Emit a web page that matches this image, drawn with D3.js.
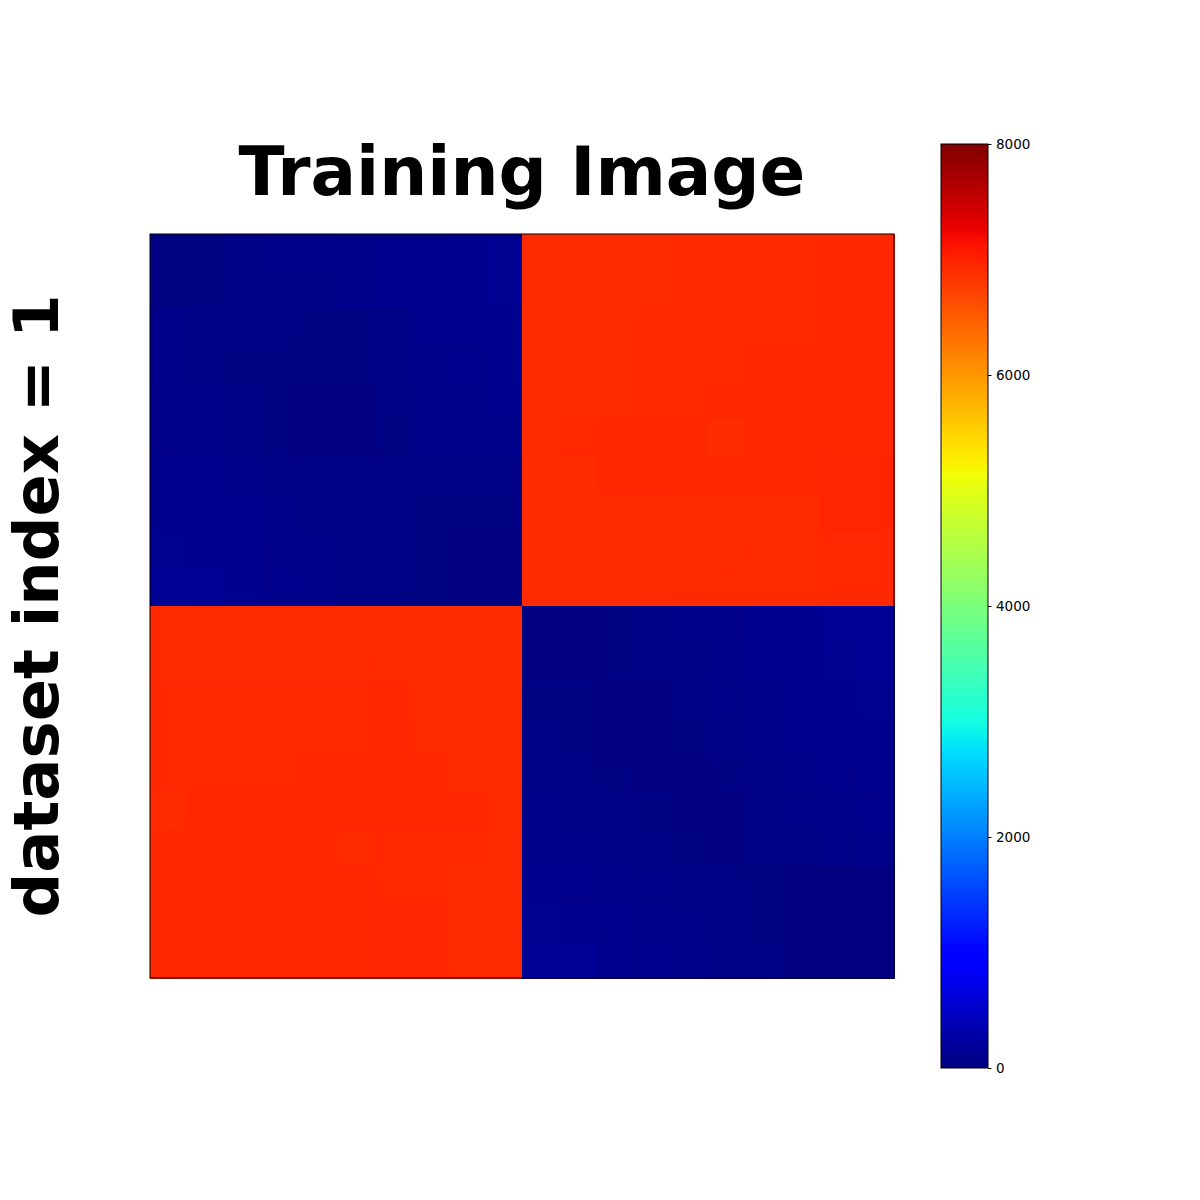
<!DOCTYPE html>
<html>
<head>
<meta charset="utf-8">
<script src="https://cdn.jsdelivr.net/npm/d3@7"></script>
<style>
  body { margin: 0; background: #fff; }
  svg { display: block; }
</style>
</head>
<body>
<svg id="chart" width="1200" height="1200"></svg>
<script>
// 20x20 grid, values (blue blocks near 0, red blocks near 6950)
const topLeft = [
  [20, 20, 30, 60, 60, 70, 90, 90, 110, 120],
  [20, 25, 40, 50, 50, 70, 100, 100, 110, 120],
  [60, 40, 30, 30, 20, 20, 50, 90, 100, 110],
  [60, 50, 20, 20, 20, 20, 40, 80, 90, 100],
  [70, 60, 30, 20, 10, 10, 30, 60, 80, 90],
  [80, 70, 40, 20, 10, 10, 20, 60, 70, 80],
  [100, 90, 70, 50, 40, 30, 30, 40, 40, 40],
  [110, 100, 90, 70, 50, 40, 30, 20, 20, 20],
  [120, 110, 100, 80, 70, 50, 40, 20, 10, 10],
  [140, 130, 110, 90, 70, 50, 40, 20, 10, 0]
];
const topRight = [
  [6930, 6930, 6935, 6935, 6940, 6940, 6945, 6945, 6950, 6950],
  [6930, 6930, 6935, 6935, 6940, 6940, 6945, 6945, 6950, 6950],
  [6925, 6930, 6935, 6940, 6940, 6945, 6945, 6945, 6950, 6950],
  [6925, 6930, 6935, 6940, 6945, 6945, 6950, 6950, 6950, 6955],
  [6920, 6925, 6935, 6940, 6945, 6950, 6950, 6955, 6955, 6955],
  [6920, 6945, 6950, 6950, 6950, 6920, 6955, 6955, 6960, 6960],
  [6920, 6925, 6960, 6960, 6955, 6955, 6955, 6955, 6970, 6970],
  [6920, 6920, 6925, 6925, 6915, 6915, 6915, 6920, 6970, 6970],
  [6920, 6920, 6925, 6925, 6930, 6915, 6935, 6935, 6940, 6940],
  [6920, 6920, 6925, 6925, 6930, 6930, 6935, 6935, 6940, 6940]
];
const bottomLeft = [
  [6935, 6935, 6935, 6935, 6935, 6920, 6920, 6920, 6920, 6920],
  [6935, 6935, 6935, 6935, 6935, 6935, 6920, 6920, 6920, 6920],
  [6940, 6940, 6940, 6940, 6945, 6945, 6955, 6925, 6925, 6925],
  [6940, 6940, 6940, 6945, 6945, 6945, 6955, 6930, 6930, 6930],
  [6940, 6940, 6945, 6945, 6950, 6950, 6955, 6955, 6925, 6925],
  [6925, 6955, 6955, 6955, 6955, 6955, 6960, 6960, 6960, 6930],
  [6950, 6960, 6960, 6960, 6960, 6935, 6940, 6940, 6940, 6930],
  [6950, 6960, 6960, 6960, 6960, 6955, 6940, 6940, 6935, 6935],
  [6950, 6960, 6960, 6960, 6960, 6960, 6965, 6965, 6935, 6935],
  [6950, 6960, 6960, 6960, 6960, 6960, 6965, 6965, 6935, 6935]
];
const bottomRight = [
  [10, 10, 20, 40, 60, 80, 100, 110, 130, 140],
  [10, 10, 20, 30, 50, 70, 90, 110, 120, 130],
  [20, 20, 10, 10, 30, 60, 80, 100, 110, 120],
  [30, 20, 10, 10, 20, 50, 70, 90, 100, 110],
  [50, 40, 20, 10, 10, 20, 50, 70, 90, 100],
  [60, 50, 40, 20, 10, 10, 40, 60, 80, 90],
  [80, 70, 50, 40, 20, 10, 30, 40, 60, 70],
  [100, 90, 70, 60, 40, 30, 20, 10, 10, 10],
  [120, 110, 90, 70, 60, 40, 20, 10, 0, 0],
  [150, 140, 110, 90, 70, 50, 30, 10, 0, 0]
];
const colorTicks = [0, 2000, 4000, 6000, 8000];
const vmin = 0, vmax = 8000;
const titleText = "Training Image";
const ylabelText = "dataset index = 1";

const grid = topLeft.map((r, i) => r.concat(topRight[i]))
  .concat(bottomLeft.map((r, i) => r.concat(bottomRight[i])));
const n = grid.length;
const cells = [];
grid.forEach((row, i) => row.forEach((v, j) => cells.push({ i, j, v })));

// matplotlib "jet" rebuilt from its segment data
const red = d3.scaleLinear().domain([0, 0.35, 0.66, 0.89, 1]).range([0, 0, 1, 1, 0.5]).clamp(true);
const green = d3.scaleLinear().domain([0, 0.125, 0.375, 0.64, 0.91, 1]).range([0, 0, 1, 1, 0, 0]).clamp(true);
const blue = d3.scaleLinear().domain([0, 0.11, 0.34, 0.65, 1]).range([0.5, 1, 1, 0, 0]).clamp(true);
const norm = d3.scaleLinear().domain([vmin, vmax]).range([0, 1]).clamp(true);
const jet = (v) => {
  const t = norm(v);
  return d3.rgb(red(t) * 255, green(t) * 255, blue(t) * 255).toString();
};

const svg = d3.select("#chart");
const plot = { left: 150, top: 234, size: 744 };

const x = d3.scaleBand().domain(d3.range(n)).range([plot.left, plot.left + plot.size]);
const y = d3.scaleBand().domain(d3.range(n)).range([plot.top, plot.top + plot.size]);

svg.append("g")
  .attr("shape-rendering", "crispEdges")
  .selectAll("rect")
  .data(cells)
  .join("rect")
  .attr("x", d => x(d.j))
  .attr("y", d => y(d.i))
  .attr("width", x.bandwidth() + 0.5)
  .attr("height", y.bandwidth() + 0.5)
  .attr("fill", d => jet(d.v));

svg.append("rect")
  .attr("x", plot.left).attr("y", plot.top)
  .attr("width", plot.size).attr("height", plot.size)
  .attr("fill", "none").attr("stroke", "#000").attr("stroke-width", 1);

svg.append("text")
  .attr("x", plot.left + plot.size / 2)
  .attr("y", 195)
  .attr("text-anchor", "middle")
  .style("font", "bold 67.5px 'DejaVu Sans'")
  .text(titleText);

svg.append("text")
  .attr("transform", `translate(58,${plot.top + plot.size / 2}) rotate(-90)`)
  .attr("text-anchor", "middle")
  .style("font", "bold 62.5px 'DejaVu Sans'")
  .text(ylabelText);

// colorbar
const cb = { left: 941, top: 144, width: 47, height: 924 };
const cy = d3.scaleLinear().domain([vmin, vmax]).range([cb.top + cb.height, cb.top]);

const defs = svg.append("defs");
const grad = defs.append("linearGradient")
  .attr("id", "jetgrad")
  .attr("x1", 0).attr("y1", 1).attr("x2", 0).attr("y2", 0);
grad.selectAll("stop")
  .data(d3.range(0, 1.0001, 0.01))
  .join("stop")
  .attr("offset", d => d)
  .attr("stop-color", d => jet(vmin + d * (vmax - vmin)));

svg.append("rect")
  .attr("x", cb.left).attr("y", cb.top)
  .attr("width", cb.width).attr("height", cb.height)
  .attr("fill", "url(#jetgrad)")
  .attr("stroke", "#000").attr("stroke-width", 1);

svg.append("g")
  .attr("transform", `translate(${cb.left + cb.width},0)`)
  .call(d3.axisRight(cy).tickValues(colorTicks).tickSize(3.5).tickPadding(4.5).tickFormat(d3.format("d")))
  .call(g => g.select(".domain").remove())
  .call(g => g.selectAll("text").style("font", "13.5px 'DejaVu Sans'").attr("fill", "#000"))
  .call(g => g.selectAll("line").attr("stroke", "#000"));
</script>
</body>
</html>
